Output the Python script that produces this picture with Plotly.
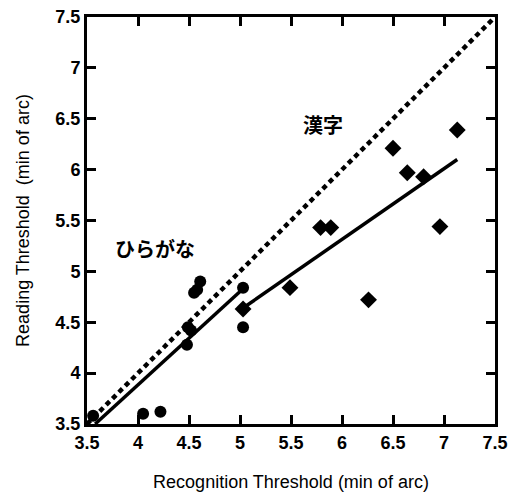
import plotly.graph_objects as go

# Hiragana (circles)
hira_x = [3.56, 4.05, 4.22, 4.48, 4.49, 4.52, 4.55, 4.58, 4.61, 5.03, 5.03]
hira_y = [3.58, 3.60, 3.62, 4.28, 4.45, 4.42, 4.79, 4.82, 4.90, 4.84, 4.45]
# Kanji (diamonds)
kanji_x = [5.03, 5.49, 5.79, 5.89, 6.26, 6.50, 6.64, 6.80, 6.96, 7.13]
kanji_y = [4.63, 4.84, 5.43, 5.43, 4.72, 6.21, 5.97, 5.93, 5.44, 6.39]
# Regression lines
hira_fit_x = [3.58, 5.03]
hira_fit_y = [3.50, 4.83]
kanji_fit_x = [5.03, 7.13]
kanji_fit_y = [4.64, 6.10]
# Identity line
ident = [3.5, 7.5]

axis_range = [3.5, 7.5]
major_step = 0.5

fig = go.Figure()
fig.add_trace(go.Scatter(x=ident, y=ident, mode="lines",
                         line=dict(color="black", width=4.5, dash="5px,4px")))
fig.add_trace(go.Scatter(x=hira_fit_x, y=hira_fit_y, mode="lines",
                         line=dict(color="black", width=3.5)))
fig.add_trace(go.Scatter(x=kanji_fit_x, y=kanji_fit_y, mode="lines",
                         line=dict(color="black", width=3.5)))
fig.add_trace(go.Scatter(x=hira_x, y=hira_y, mode="markers",
                         marker=dict(symbol="circle", size=12, color="black")))
fig.add_trace(go.Scatter(x=kanji_x, y=kanji_y, mode="markers",
                         marker=dict(symbol="diamond", size=13, color="black")))

jp_font = dict(family="Noto Sans CJK JP", size=20, color="black", weight="bold")
fig.add_annotation(x=4.17, y=5.22, text="ひらがな", showarrow=False, font=jp_font)
fig.add_annotation(x=5.81, y=6.44, text="漢字", showarrow=False, font=jp_font)

tick_font = dict(family="Liberation Sans", size=18, color="black", weight="bold")
title_font = dict(family="Liberation Sans", size=18, color="black")

fig.update_xaxes(
    range=axis_range, dtick=major_step,
    ticks="inside", ticklen=9, tickwidth=2.5, tickcolor="black",
    showline=True, linewidth=3, linecolor="black", mirror="ticks",
    showgrid=False, zeroline=False, tickfont=tick_font, automargin=False,
    ticklabeloverflow="allow",
    title=dict(text="Recognition Threshold (min of arc)", font=title_font, standoff=24),
)
fig.update_yaxes(
    range=axis_range, dtick=major_step,
    ticks="inside", ticklen=9, tickwidth=2.5, tickcolor="black",
    showline=True, linewidth=3, linecolor="black", mirror="ticks",
    showgrid=False, zeroline=False, tickfont=tick_font, automargin=False,
    ticklabeloverflow="allow",
    title=dict(text="Reading Threshold  (min of arc)", font=title_font, standoff=22),
)

fig.update_layout(
    template="simple_white",
    width=509, height=490,
    margin=dict(l=79, r=22, t=9, b=74, autoexpand=False),
    showlegend=False,
)
fig.write_html("out.html")
